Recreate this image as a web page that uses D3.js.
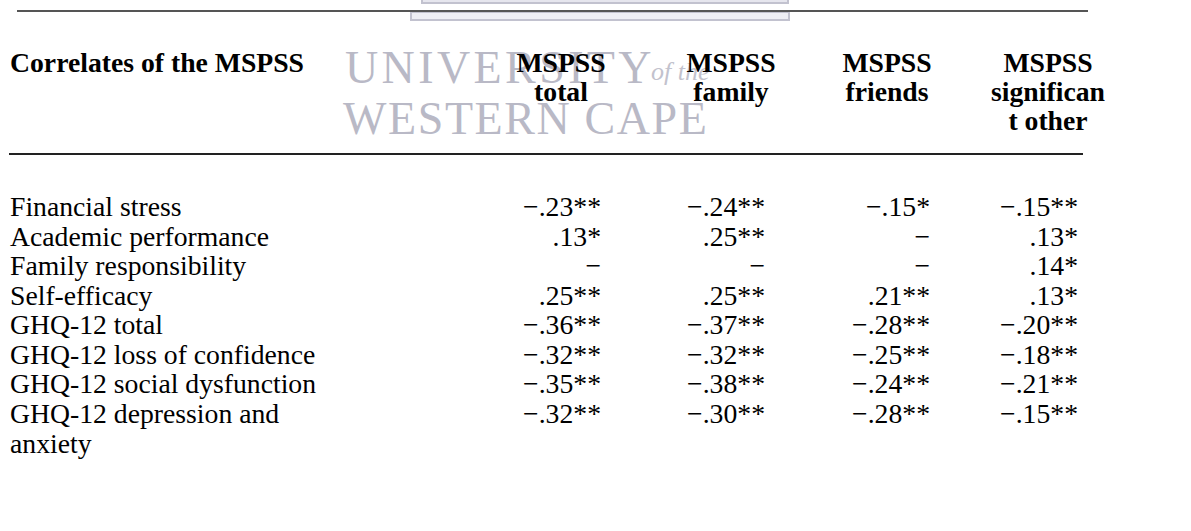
<!DOCTYPE html>
<html>
<head>
<meta charset="utf-8">
<script src="https://cdn.jsdelivr.net/npm/d3@7"></script>
<style>
  html, body { margin: 0; padding: 0; background: #fff; }
  svg { display: block; }
  text { font-family: "Liberation Serif", "Times New Roman", serif; }
</style>
</head>
<body>
<svg id="chart" width="1191" height="531"></svg>
<script>
// ---- data ----
const stubHeader = "Correlates of the MSPSS";
const columnHeaders = [
  ["MSPSS", "total"],
  ["MSPSS", "family"],
  ["MSPSS", "friends"],
  ["MSPSS", "significan", "t other"]
];
const rowLabels = [
  "Financial stress",
  "Academic performance",
  "Family responsibility",
  "Self-efficacy",
  "GHQ-12 total",
  "GHQ-12 loss of confidence",
  "GHQ-12 social dysfunction",
  "GHQ-12 depression and anxiety"
];
// null = not significant (shown as a dash)
const mspssTotal       = [-0.23, 0.13, null, 0.25, -0.36, -0.32, -0.35, -0.32];
const mspssTotalSig    = ["**", "*", "", "**", "**", "**", "**", "**"];
const mspssFamily      = [-0.24, 0.25, null, 0.25, -0.37, -0.32, -0.38, -0.30];
const mspssFamilySig   = ["**", "**", "", "**", "**", "**", "**", "**"];
const mspssFriends     = [-0.15, null, null, 0.21, -0.28, -0.25, -0.24, -0.28];
const mspssFriendsSig  = ["*", "", "", "**", "**", "**", "**", "**"];
const mspssOther       = [-0.15, 0.13, 0.14, 0.13, -0.20, -0.18, -0.21, -0.15];
const mspssOtherSig    = ["**", "*", "*", "*", "**", "**", "**", "**"];
const watermarkLines = ["UNIVERSITY", "of the", "WESTERN CAPE"];

const seriesValues = [mspssTotal, mspssFamily, mspssFriends, mspssOther];
const seriesSig = [mspssTotalSig, mspssFamilySig, mspssFriendsSig, mspssOtherSig];

// ---- layout ----
const svg = d3.select("#chart");
const FS = 27.7;
const colIdx = d3.range(columnHeaders.length);
const xRight = d3.scaleOrdinal().domain(colIdx).range([601, 765, 930, 1078]);
const xCenter = d3.scaleOrdinal().domain(colIdx).range([561, 731, 887, 1048]);
const rowY = d3.scalePoint().domain(d3.range(rowLabels.length)).range([216, 423]);
const lineH = 29.6;

// watermark
const wm = svg.append("g").attr("class", "watermark");
wm.append("rect").attr("x", 422).attr("y", -4).attr("width", 366).attr("height", 7)
  .attr("fill", "#e6e6ee").attr("stroke", "#c2c2cf").attr("stroke-width", 2);
wm.append("rect").attr("x", 411).attr("y", 12).attr("width", 378).attr("height", 8)
  .attr("fill", "#eeeef4").attr("stroke", "#c2c2cf").attr("stroke-width", 2);
wm.append("text").attr("x", 345).attr("y", 83)
  .attr("font-size", 46).attr("fill", "#b9b9c6").attr("letter-spacing", 3.4)
  .text(watermarkLines[0]);
wm.append("text").attr("x", 651).attr("y", 80)
  .attr("font-size", 26).attr("font-style", "italic").attr("fill", "#c2c2cd")
  .text(watermarkLines[1]);
wm.append("text").attr("x", 343).attr("y", 134)
  .attr("font-size", 46).attr("fill", "#b9b9c6").attr("letter-spacing", 1.6)
  .text(watermarkLines[2]);

// rules
svg.append("line").attr("x1", 17).attr("x2", 1088).attr("y1", 11).attr("y2", 11)
  .attr("stroke", "#555").attr("stroke-width", 2);
svg.append("line").attr("x1", 9).attr("x2", 1083).attr("y1", 154).attr("y2", 154)
  .attr("stroke", "#222").attr("stroke-width", 2);

// header
svg.append("text").attr("x", 10).attr("y", 72)
  .attr("font-size", FS).attr("font-weight", "bold").text(stubHeader);

const headBase = [72, 101, 130];
const hdr = svg.append("g").selectAll("text").data(columnHeaders).join("text")
  .attr("font-size", FS).attr("font-weight", "bold").attr("text-anchor", "middle")
  .attr("fill", "#000");
hdr.selectAll("tspan").data((d, i) => d.map(l => ({l, i}))).join("tspan")
  .attr("x", d => xCenter(d.i))
  .attr("y", (d, k) => headBase[k])
  .text(d => d.l);

// row labels with wrapping
const maxLabelW = 330;
const labels = svg.append("g").selectAll("text").data(rowLabels).join("text")
  .attr("font-size", FS).attr("x", 10).attr("y", (d, i) => rowY(i));
labels.each(function(d, i) {
  const t = d3.select(this);
  const words = d.split(" ");
  let line = [], lineNo = 0;
  let tspan = t.append("tspan").attr("x", 10).attr("y", rowY(i));
  words.forEach(w => {
    line.push(w);
    tspan.text(line.join(" "));
    if (tspan.node().getComputedTextLength() > maxLabelW && line.length > 1) {
      line.pop();
      tspan.text(line.join(" "));
      line = [w];
      lineNo++;
      tspan = t.append("tspan").attr("x", 10).attr("y", rowY(i) + lineNo * lineH).text(w);
    }
  });
});

// values
const fmt = v => (v < 0 ? "\u2212" : "") + d3.format(".2f")(Math.abs(v)).replace(/^0/, "");
const cells = [];
seriesValues.forEach((vals, c) => vals.forEach((v, r) => cells.push({c, r, v, s: seriesSig[c][r]})));
svg.append("g").selectAll("text").data(cells).join("text")
  .attr("font-size", FS).attr("text-anchor", "end")
  .attr("x", d => xRight(d.c))
  .attr("y", d => rowY(d.r))
  .text(d => d.v === null ? "\u2212" : fmt(d.v) + d.s);
</script>
</body>
</html>
